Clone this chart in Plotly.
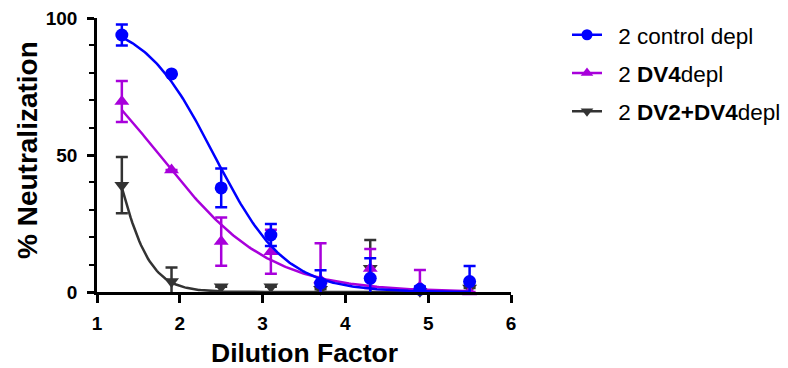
import numpy as np
import plotly.graph_objects as go

# Data (log dilution factor)
dilution = [1.3, 1.9, 2.5, 3.1, 3.7, 4.3, 4.9, 5.5]

control_y = [93.8, 79.6, 38.0, 20.8, 3.2, 5.0, 1.0, 3.8]
control_err = [3.8, 0.0, 7.1, 4.0, 4.7, 7.3, 1.0, 5.7]

dv4_y = [69.5, 44.5, 18.4, 14.7, 4.4, 8.6, 1.9, 0.0]
dv4_err = [7.5, 0.0, 8.8, 8.0, 13.4, 7.1, 6.1, 0.0]

dv24_y = [39.0, 3.8, 1.9, 1.9, 1.0, 8.7, 0.3, 1.5]
dv24_err = [10.3, 5.1, 0.0, 0.0, 0.0, 10.3, 0.0, 0.0]

# Fitted sigmoid parameters (top, bottom, logIC50, hill)
control_fit = [100.0, 0.0, 2.414, 1.01]
dv4_fit = [100.0, 0.0, 1.753, 0.654]
dv24_fit = [100.0, 0.0, 1.197, 2.05]

names = ["2 control depl", "2 <b>DV4</b>depl", "2 <b>DV2+DV4</b>depl"]
colors = ["#0000FF", "#A800DB", "#333333"]
symbols = ["circle", "triangle-up", "triangle-down"]

x_ticks = [1, 2, 3, 4, 5, 6]
y_ticks = [0, 50, 100]
y_minor = [10, 20, 30, 40, 60, 70, 80, 90]

FONT = "Liberation Sans, Arial, sans-serif"
GAP = "\u2002"


def curve(p, xs):
    top, bottom, c, h = p
    return bottom + (top - bottom) / (1 + 10 ** ((xs - c) * h))


xs = np.linspace(dilution[0], dilution[-1], 200)

series = [
    (control_y, control_err, control_fit),
    (dv4_y, dv4_err, dv4_fit),
    (dv24_y, dv24_err, dv24_fit),
]

fig = go.Figure()

# draw order: dark, purple, blue (blue on top)
for i in [2, 1, 0]:
    yv, ev, fp = series[i]
    fig.add_trace(go.Scatter(
        x=xs, y=curve(fp, xs), mode="lines",
        line=dict(color=colors[i], width=2.5),
        showlegend=False, hoverinfo="skip", cliponaxis=False))
    fig.add_trace(go.Scatter(
        x=dilution, y=yv, mode="markers",
        marker=dict(symbol=symbols[i], size=13, color=colors[i]),
        error_y=dict(type="data", array=ev, visible=True,
                     color=colors[i], thickness=2.5, width=6),
        showlegend=False, cliponaxis=False))

# legend entries
for i in range(3):
    fig.add_trace(go.Scatter(
        x=[None], y=[None], mode="lines+markers", name=GAP + names[i],
        legendgroup=f"g{i}",
        line=dict(color=colors[i], width=2.5),
        marker=dict(symbol=symbols[i], size=11, color=colors[i]),
        legendrank=i + 1))

fig.update_layout(
    width=788, height=368,
    margin=dict(l=97, r=277, t=18, b=76, autoexpand=False),
    plot_bgcolor="white", paper_bgcolor="white",
    font=dict(family=FONT, color="black"),
    legend=dict(x=(567 - 97) / 414, y=1.016, xanchor="left", yanchor="top",
                font=dict(family=FONT, size=22.5, color="black"),
                tracegroupgap=6, itemwidth=30, traceorder="grouped"),
    xaxis=dict(
        range=[1, 6], tickvals=x_ticks, automargin=False,
        showline=True, linecolor="black", linewidth=2.5,
        ticks="outside", ticklen=8, tickwidth=2.5, tickcolor="black",
        showgrid=False, zeroline=False,
        tickfont=dict(family=FONT, size=19, color="black", weight="bold"),
        ticklabelstandoff=4,
    ),
    yaxis=dict(
        range=[0, 100], tickvals=y_ticks, automargin=False,
        showline=True, linecolor="black", linewidth=2.5,
        ticks="outside", ticklen=7, tickwidth=2.5, tickcolor="black",
        minor=dict(tickvals=y_minor, ticks="outside",
                   ticklen=5, tickwidth=2, tickcolor="black"),
        showgrid=False, zeroline=False,
        tickfont=dict(family=FONT, size=19, color="black", weight="bold"),
        ticklabelstandoff=6,
    ),
    annotations=[
        dict(text="<b>Dilution Factor</b>", xref="paper", yref="paper",
             x=(304.5 - 97) / 414, y=-61 / 274, xanchor="center", yanchor="middle",
             showarrow=False, font=dict(family=FONT, size=26.5, color="black")),
        dict(text="<b>% Neutralization</b>", xref="paper", yref="paper",
             x=-70 / 414, y=142 / 274, xanchor="center", yanchor="middle",
             textangle=-90, showarrow=False,
             font=dict(family=FONT, size=28, color="black")),
    ],
)

fig.write_html("out.html", post_script="document.body.style.margin='0';",
               config={"displayModeBar": False})
